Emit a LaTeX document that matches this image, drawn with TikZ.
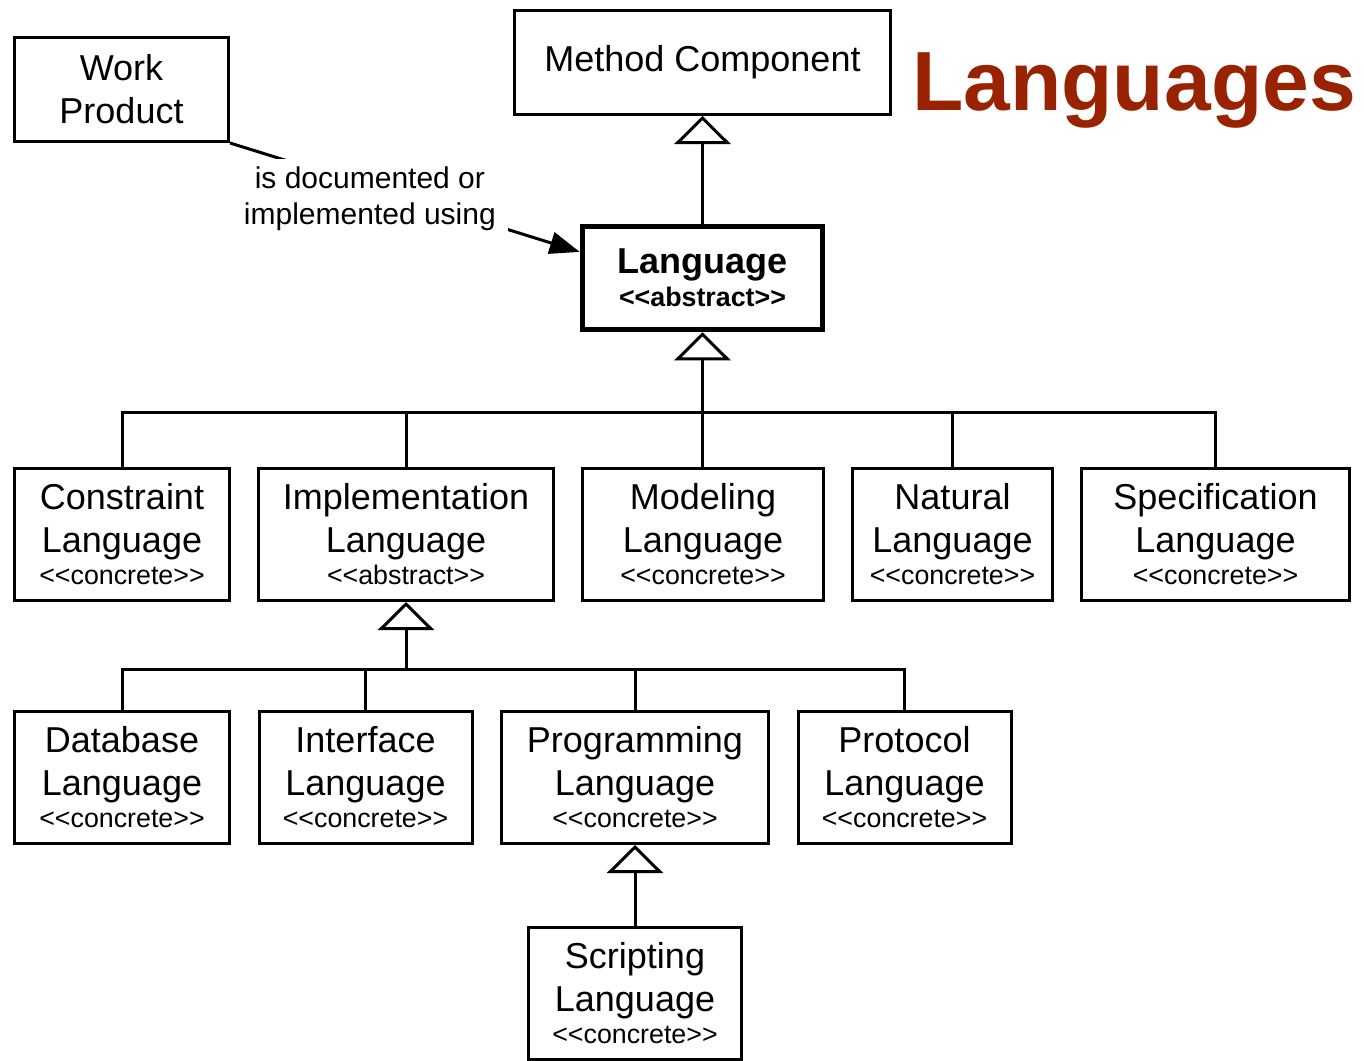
\documentclass[tikz,border=0pt]{standalone}
\usepackage{fontspec}
\setmainfont{Liberation Sans}
\usetikzlibrary{arrows.meta,positioning,calc}
\definecolor{titlered}{HTML}{992200}
\newcommand{\stereo}[1]{\\[-5.5pt]{\fontsize{13.4}{15}\selectfont <\kern0pt<#1>\kern0pt>}}
\tikzset{
	block/.style = {draw, fill=white, rectangle, align=center, inner sep=0pt,
		font=\fontsize{18}{21.5}\selectfont, minimum height=52pt},
	kind/.style = {block, minimum height=66pt},
	tmp/.style = {coordinate},
	gen/.style = {-{Triangle[open, length=14pt, width=28pt]}},
	assoc/.style = {-{Triangle[length=15pt, width=11pt]}}
}

\begin{document}
\begin{tikzpicture}[line width=1.5pt, node distance=13pt]
	\useasboundingbox (0,0) rectangle (682pt,-530pt);
	\node [block, minimum width=188pt] (mc) at (351.25pt,-31.25pt) {Method Component};
	\node [block, minimum width=107pt] (wp) at (60.75pt,-44.75pt) {Work\\Product};
	\node [block, line width=2.75pt, minimum width=120pt, minimum height=51.5pt,
		font=\fontsize{18}{16.5}\selectfont\bfseries] (lang) at (351.25pt,-139pt)
		{Language\\{\fontsize{13.4}{15}\selectfont <\kern0pt<abstract>\kern0pt>}};
	\node [anchor=base, text=titlered, font=\fontsize{42}{50}\selectfont\bfseries] (title)
		at (567pt,-55pt) {Languages};

	\node [kind, minimum width=107.5pt] (constr) at (61pt,-267.25pt) {Constraint\\Language\stereo{concrete}};
	\node [kind, minimum width=147.5pt, right=of constr] (impl) {Implementation\\Language\stereo{abstract}};
	\node [kind, minimum width=120.5pt, right=of impl] (model) {Modeling\\Language\stereo{concrete}};
	\node [kind, minimum width=100pt, right=of model] (natural) {Natural\\Language\stereo{concrete}};
	\node [kind, minimum width=134pt, right=of natural] (spec) {Specification\\Language\stereo{concrete}};

	\node [kind, minimum width=107.5pt] (db) at (61pt,-388.75pt) {Database\\Language\stereo{concrete}};
	\node [kind, minimum width=106.5pt, right=13.25pt of db] (iface) {Interface\\Language\stereo{concrete}};
	\node [kind, minimum width=133.5pt, right=13.25pt of iface] (prog) {Programming\\Language\stereo{concrete}};
	\node [kind, minimum width=106.5pt, right=13.25pt of prog] (proto) {Protocol\\Language\stereo{concrete}};

	\node [kind, minimum width=106.5pt, below=40.5pt of prog] (script) {Scripting\\Language\stereo{concrete}};

	\coordinate (j1) at (0,-206pt);
	\coordinate (j2) at (0,-334.5pt);

	\draw [assoc] (wp.south east) -- node[pos=0.4, yshift=-6pt, fill=white, align=center,
		inner xsep=6pt, inner ysep=4pt, font=\fontsize{15}{18}\selectfont]
		{is documented or\\implemented using} (lang.168);
	\draw [gen] (lang.north) -- (mc.south);
	\draw [gen] (lang.south |- model.north) -- (lang.south);
	\draw (constr.north) |- (spec.north |- j1) -- (spec.north);
	\draw (impl.north) -- (impl.north |- j1);
	\draw (natural.north) -- (natural.north |- j1);
	\draw [gen] (impl.south |- j2) -- (impl.south);
	\draw (db.north) |- (proto.north |- j2) -- (proto.north);
	\draw (iface.north) -- (iface.north |- j2);
	\draw (prog.north) -- (prog.north |- j2);
	\draw [gen] (script.north) -- (prog.south);
\end{tikzpicture}
\end{document}
